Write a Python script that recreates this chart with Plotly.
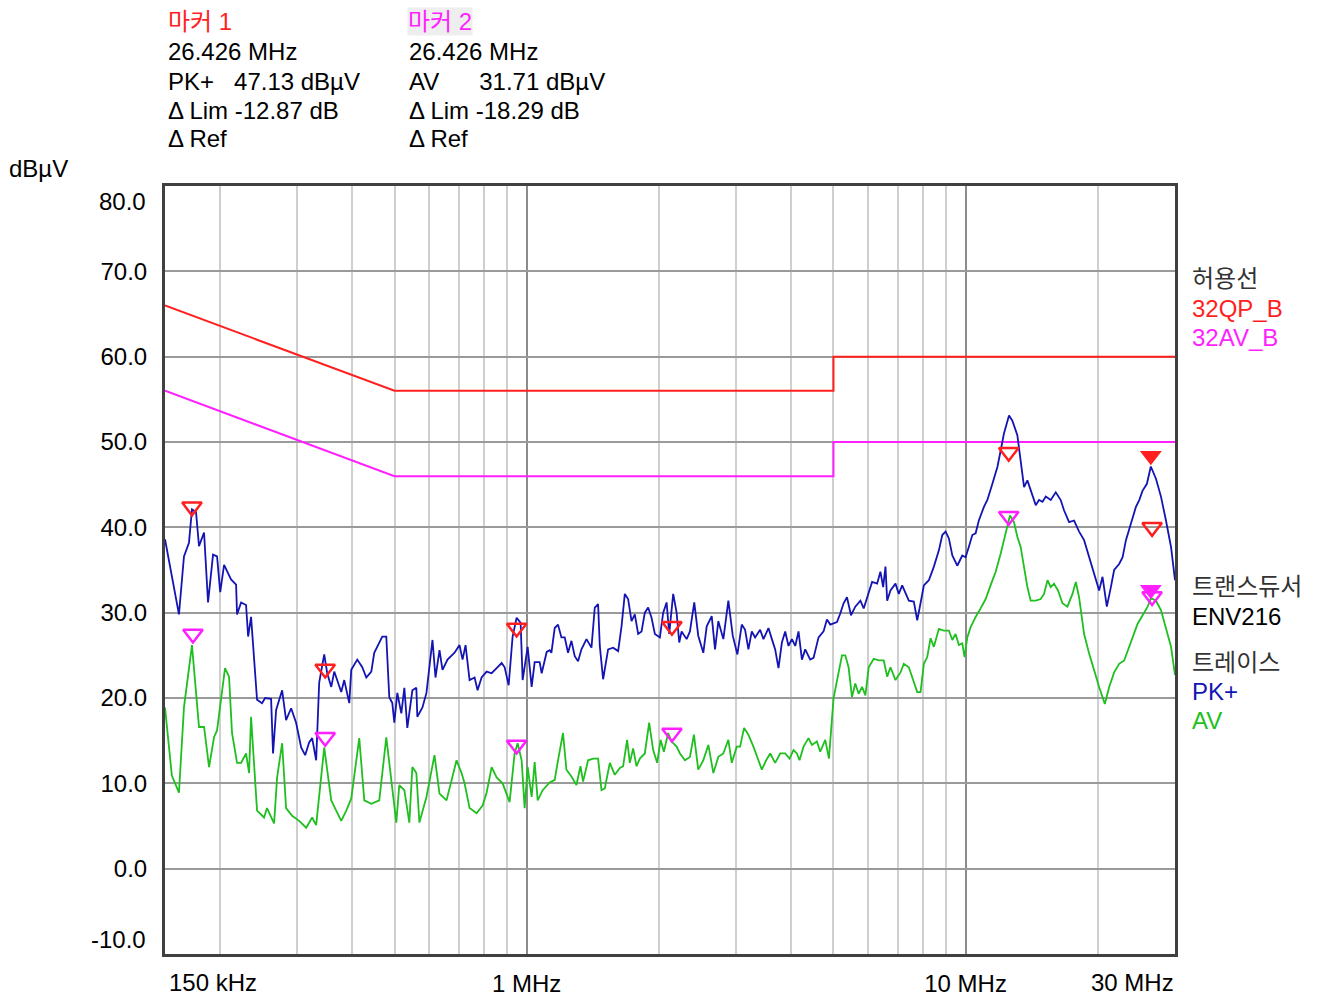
import plotly.graph_objects as go

# --- limit lines (MHz, dBuV)
qp_lim_f = [0.15, 0.5, 5.0, 5.0, 30.0]
qp_lim_v = [66.0, 56.0, 56.0, 60.0, 60.0]
av_lim_f = [0.15, 0.5, 5.0, 5.0, 30.0]
av_lim_v = [56.0, 46.0, 46.0, 50.0, 50.0]

# --- PK+ trace
pk_f = [
    0.150, 0.1614, 0.1657, 0.1701, 0.1728, 0.1765, 0.1793, 0.1841, 0.1880, 0.1930,
    0.1971, 0.2004, 0.2045, 0.2121, 0.2178, 0.2189, 0.2236, 0.2295, 0.2320, 0.2356,
    0.2431, 0.2496, 0.2536, 0.2617, 0.2644, 0.2687, 0.2773, 0.2831, 0.2907, 0.2984,
    0.3064, 0.3129, 0.3195, 0.3246, 0.3315, 0.3368, 0.3458, 0.3513, 0.3588, 0.3645,
    0.3781, 0.3841, 0.3944, 0.3985, 0.4113, 0.4222, 0.4312, 0.4427, 0.4496, 0.4616,
    0.4689, 0.4789, 0.4865, 0.4943, 0.4995, 0.5074, 0.5182, 0.5265, 0.5348, 0.5491,
    0.5607, 0.5636, 0.5789, 0.5912, 0.6102, 0.6199, 0.6331, 0.6431, 0.6603, 0.6851,
    0.7033, 0.7145, 0.7258, 0.7413, 0.7611, 0.7731, 0.7895, 0.8106, 0.8322, 0.8544,
    0.8771, 0.8911, 0.9100, 0.9290, 0.9488, 0.9689, 0.9792, 1.0053, 1.0266, 1.0430,
    1.0707, 1.0820, 1.1110, 1.1285, 1.1386, 1.1586, 1.1789, 1.2001, 1.2211, 1.2425,
    1.2649, 1.2870, 1.3096, 1.3332, 1.3687, 1.4051, 1.4297, 1.4547, 1.4678, 1.4935,
    1.5333, 1.5741, 1.6161, 1.6451, 1.6736, 1.7028, 1.7337, 1.7638, 1.7948, 1.8272,
    1.8590, 1.8916, 1.9256, 1.9594, 2.0116, 2.0468, 2.0838, 2.1124, 2.1572, 2.1962,
    2.2266, 2.2546, 2.3146, 2.3552, 2.4090, 2.4602, 2.5263, 2.5719, 2.6403, 2.6865,
    2.7336, 2.8062, 2.8809, 2.9484, 3.0207, 3.0912, 3.1455, 3.2004, 3.2580, 3.3150,
    3.4035, 3.4636, 3.5556, 3.6200, 3.6832, 3.7476, 3.8152, 3.8820, 3.9500, 4.0210,
    4.0920, 4.1630, 4.2380, 4.3120, 4.4260, 4.5040, 4.6240, 4.7470, 4.8320, 4.9170,
    5.093, 5.182, 5.273, 5.368, 5.482, 5.607, 5.759, 5.860, 6.016, 6.124,
    6.287, 6.397, 6.489, 6.569, 6.628, 6.744, 6.923, 7.044, 7.171, 7.297,
    7.425, 7.622, 7.760, 7.895, 8.034, 8.248, 8.468, 8.693, 8.850, 9.005,
    9.162, 9.328, 9.573, 9.828, 10.00, 10.17, 10.36, 10.54, 10.72, 11.01,
    11.21, 11.51, 11.82, 12.02, 12.23, 12.56, 12.78, 13.12, 13.35, 13.59,
    13.83, 14.07, 14.45, 14.70, 14.97, 15.23, 15.63, 16.05, 16.47, 16.76,
    17.21, 17.67, 18.14, 18.62, 19.12, 19.46, 19.80, 20.15, 20.51, 20.98,
    21.43, 21.80, 22.38, 22.79, 23.19, 23.81, 24.44, 24.87, 25.31, 25.89,
    26.426, 27.15, 27.87, 28.61, 29.38, 30.00,
]
pk_v = [
    38.6, 29.8, 36.6, 38.2, 42.1, 41.8, 37.8, 39.4, 31.2, 36.8,
    36.6, 32.4, 35.6, 33.9, 33.3, 29.8, 31.2, 30.9, 27.2, 29.5,
    19.8, 19.4, 20.0, 19.9, 13.5, 18.6, 20.9, 17.4, 18.8, 17.1,
    14.2, 13.3, 14.8, 15.3, 12.7, 21.8, 25.1, 22.9, 21.3, 23.1,
    20.7, 22.1, 19.4, 23.3, 24.5, 23.6, 22.4, 23.1, 25.3, 26.5,
    27.2, 27.2, 20.1, 19.4, 17.1, 20.6, 18.2, 21.2, 16.5, 20.9,
    21.2, 17.8, 18.9, 20.6, 26.8, 22.4, 25.6, 23.3, 24.5, 25.3,
    26.2, 24.5, 26.2, 22.1, 22.4, 20.9, 22.4, 23.1, 22.9, 23.5,
    24.1, 23.6, 21.5, 27.2, 29.4, 28.8, 22.1, 26.0, 21.3, 24.2,
    24.2, 22.9, 25.4, 25.6, 25.3, 28.2, 28.6, 27.1, 27.1, 25.3,
    26.7, 24.9, 24.3, 25.7, 26.9, 25.9, 30.6, 31.0, 26.1, 22.2,
    25.7, 25.9, 25.5, 28.4, 32.2, 31.6, 29.0, 29.8, 27.5, 27.8,
    30.0, 30.6, 29.4, 27.5, 27.1, 30.0, 31.2, 27.5, 32.2, 30.0,
    26.5, 27.8, 26.9, 27.8, 31.2, 27.3, 25.3, 28.4, 29.6, 25.7,
    29.0, 26.9, 31.4, 27.3, 25.1, 28.6, 28.0, 25.7, 27.8, 27.1,
    28.0, 26.9, 28.2, 26.9, 25.7, 23.5, 26.5, 27.8, 26.1, 26.9,
    26.1, 27.8, 24.5, 25.7, 24.5, 24.7, 27.1, 27.8, 29.2, 28.6,
    28.9, 29.9, 31.1, 31.8, 29.7, 30.7, 31.4, 30.5, 32.2, 33.6,
    33.4, 34.8, 33.0, 35.4, 31.4, 32.6, 33.4, 32.2, 33.2, 32.4,
    31.4, 31.3, 29.1, 31.1, 33.2, 33.8, 35.4, 37.3, 39.1, 39.5,
    38.7, 36.7, 35.5, 36.7, 36.5, 37.7, 39.1, 39.3, 40.8, 42.4,
    43.2, 45.1, 47.1, 49.0, 51.0, 53.1, 52.5, 50.8, 48.0, 44.7,
    45.5, 44.3, 42.6, 43.2, 43.0, 43.6, 43.2, 44.1, 43.2, 42.0,
    40.6, 40.8, 39.5, 38.5, 36.5, 35.0, 33.8, 32.6, 34.2, 30.7,
    33.0, 35.0, 35.7, 36.5, 38.5, 40.4, 42.4, 43.2, 44.3, 45.1,
    47.13, 45.7, 43.6, 40.8, 37.7, 33.8,
]

# --- AV trace
av_f = [
    0.150, 0.1555, 0.1614, 0.1657, 0.1728, 0.1793, 0.1841, 0.1890, 0.1940, 0.1971,
    0.2055, 0.2099, 0.2132, 0.2189, 0.2236, 0.2295, 0.2332, 0.2356, 0.2431, 0.2522,
    0.2562, 0.2658, 0.2701, 0.2773, 0.2831, 0.2922, 0.3032, 0.3146, 0.3246, 0.3315,
    0.3458, 0.3588, 0.3683, 0.3781, 0.3882, 0.3985, 0.4156, 0.4267, 0.4427, 0.4616,
    0.4789, 0.4943, 0.5047, 0.5127, 0.5265, 0.5404, 0.5491, 0.5607, 0.5697, 0.5912,
    0.6166, 0.6331, 0.6569, 0.6923, 0.7108, 0.7220, 0.7413, 0.7690, 0.7937, 0.8106,
    0.8322, 0.8544, 0.8817, 0.9145, 0.9389, 0.9538, 0.9741, 0.9895, 1.0053, 1.0266,
    1.0430, 1.0596, 1.0877, 1.1285, 1.1586, 1.1789, 1.2102, 1.2321, 1.2649, 1.2986,
    1.3262, 1.3445, 1.3803, 1.4170, 1.4547, 1.4809, 1.5068, 1.5470, 1.5882, 1.6305,
    1.6588, 1.6940, 1.7182, 1.7482, 1.7798, 1.8108, 1.8590, 1.9016, 1.9420, 1.9832,
    2.019, 2.054, 2.101, 2.139, 2.196, 2.235, 2.294, 2.355, 2.405, 2.460,
    2.526, 2.594, 2.663, 2.734, 2.806, 2.881, 2.933, 3.011, 3.064, 3.129,
    3.200, 3.286, 3.345, 3.434, 3.513, 3.588, 3.683, 3.781, 3.882, 3.971,
    4.055, 4.128, 4.185, 4.274, 4.387, 4.466, 4.585, 4.665, 4.789, 4.883,
    5.003, 5.229, 5.320, 5.413, 5.511, 5.607, 5.708, 5.810, 5.912, 6.016,
    6.176, 6.340, 6.509, 6.628, 6.744, 6.923, 7.108, 7.232, 7.425, 7.558,
    7.760, 7.895, 8.034, 8.178, 8.322, 8.468, 8.693, 8.924, 9.162, 9.328,
    9.488, 9.654, 9.828, 9.948, 10.09, 10.27, 10.54, 10.82, 11.11, 11.40,
    11.71, 12.02, 12.34, 12.62, 12.89, 13.12, 13.35, 13.59, 13.83, 14.07,
    14.45, 14.83, 15.09, 15.37, 15.63, 15.90, 16.24, 16.62, 17.06, 17.52,
    17.83, 18.14, 18.62, 19.12, 19.63, 20.15, 20.76, 21.24, 21.80, 22.38,
    22.98, 23.39, 24.02, 24.66, 25.31, 25.99, 26.426, 27.15, 27.87, 28.61,
    29.38, 30.00,
]
av_v = [
    18.9, 10.9, 8.9, 18.9, 26.2, 16.6, 16.6, 11.9, 15.4, 16.2,
    23.5, 22.5, 15.9, 12.4, 12.4, 13.5, 11.2, 17.8, 6.8, 6.0,
    7.1, 5.3, 10.7, 14.7, 7.1, 6.2, 5.6, 4.8, 6.0, 5.1,
    14.2, 8.0, 6.8, 5.6, 6.8, 8.2, 15.3, 8.0, 7.6, 8.0,
    15.4, 9.5, 5.4, 9.8, 9.2, 5.4, 11.9, 11.2, 5.4, 8.4,
    13.3, 8.8, 8.0, 12.7, 11.2, 10.0, 7.1, 6.5, 7.4, 8.9,
    11.9, 10.7, 10.0, 7.8, 13.5, 14.7, 12.7, 7.1, 11.9, 8.4,
    12.5, 8.0, 9.2, 10.1, 10.4, 12.7, 15.9, 11.6, 10.8, 9.8,
    12.0, 10.2, 12.7, 12.9, 12.9, 9.2, 9.4, 12.4, 11.0, 11.8,
    12.0, 15.1, 12.4, 14.1, 12.0, 12.9, 13.5, 17.1, 13.9, 12.4,
    15.1, 13.7, 15.9, 14.9, 14.3, 13.5, 12.7, 13.1, 15.7, 11.6,
    12.7, 14.5, 11.2, 13.1, 13.5, 15.1, 12.4, 14.3, 14.3, 16.5,
    15.7, 14.3, 13.3, 11.6, 12.7, 13.5, 12.4, 13.5, 13.5, 12.9,
    13.9, 13.5, 12.7, 14.3, 15.3, 14.5, 14.9, 13.7, 15.1, 12.9,
    20.0, 25.0, 25.0, 23.6, 20.1, 21.7, 20.5, 21.3, 20.3, 23.6,
    24.6, 24.4, 24.4, 22.5, 23.6, 22.1, 23.0, 24.0, 23.6, 22.5,
    20.7, 20.7, 24.0, 24.8, 27.0, 26.0, 28.1, 27.9, 27.9, 26.8,
    27.5, 26.2, 26.4, 24.8, 27.1, 28.3, 29.5, 30.5, 31.6, 33.2,
    34.8, 36.9, 39.3, 41.4, 40.6, 38.9, 37.7, 35.4, 33.0, 31.4,
    31.4, 31.6, 32.2, 33.8, 33.0, 33.4, 32.6, 31.1, 30.7, 32.2,
    33.6, 31.8, 27.5, 25.2, 23.2, 21.3, 19.3, 21.3, 23.0, 24.0,
    24.4, 25.4, 27.1, 28.7, 29.7, 30.7, 31.71, 31.4, 30.3, 28.3,
    26.0, 22.7,
]

# --- markers
pk_mark_f = [0.1728, 0.3476, 0.9488, 2.143, 12.54, 26.60]
pk_mark_v = [42.4, 23.4, 28.2, 28.4, 48.8, 40.0]
av_mark_f = [0.1737, 0.3476, 0.9488, 2.143, 12.54, 26.60]
av_mark_v = [27.5, 15.4, 14.5, 15.9, 41.3, 31.9]
m1_f, m1_v = [26.426], [48.4]
m2_f, m2_v = [26.426], [32.7]

x_major = [1, 10]
x_minor = [0.2, 0.3, 0.4, 0.5, 0.6, 0.7, 0.8, 0.9, 2, 3, 4, 5, 6, 7, 8, 9, 20]
y_ticks = [0, 10, 20, 30, 40, 50, 60, 70]

RED = "#ff1f1f"
MAG = "#ff1fff"
BLUE = "#1414b4"
GREEN = "#1fbf1f"
FONT = "Liberation Sans, Arial, Noto Sans CJK KR, sans-serif"
FS = 24

fig = go.Figure()
fig.add_trace(go.Scatter(x=qp_lim_f, y=qp_lim_v, mode="lines", line=dict(color=RED, width=2)))
fig.add_trace(go.Scatter(x=av_lim_f, y=av_lim_v, mode="lines", line=dict(color=MAG, width=2)))
fig.add_trace(go.Scatter(x=av_f, y=av_v, mode="lines", line=dict(color=GREEN, width=1.8)))
fig.add_trace(go.Scatter(x=pk_f, y=pk_v, mode="lines", line=dict(color=BLUE, width=1.8)))
fig.add_trace(go.Scatter(x=pk_mark_f, y=pk_mark_v, mode="markers",
                         marker=dict(symbol="triangle-down-open", size=17, color=RED, line=dict(width=2.5))))
fig.add_trace(go.Scatter(x=av_mark_f, y=av_mark_v, mode="markers",
                         marker=dict(symbol="triangle-down-open", size=17, color=MAG, line=dict(width=2.5))))
fig.add_trace(go.Scatter(x=m1_f, y=m1_v, mode="markers",
                         marker=dict(symbol="triangle-down", size=19, color=RED)))
fig.add_trace(go.Scatter(x=m2_f, y=m2_v, mode="markers",
                         marker=dict(symbol="triangle-down", size=19, color=MAG)))

fig.update_xaxes(
    type="log", range=[-0.8239, 1.4771], automargin=False,
    tickvals=x_major, ticktext=["1 MHz", "10 MHz"],
    showgrid=True, gridcolor="#8c8c8c", gridwidth=2,
    minor=dict(tickvals=x_minor, showgrid=True, gridcolor="#cfcfcf", gridwidth=2, ticklen=0),
    ticks="", ticklen=0, ticklabelstandoff=6,
    showline=True, linecolor="#404040", linewidth=3, mirror=True,
    tickfont=dict(size=FS, color="black"),
    zeroline=False,
)
fig.update_yaxes(
    range=[-10, 80], tickvals=y_ticks, ticktext=[f"{v:.1f}" for v in y_ticks], automargin=False,
    showgrid=True, gridcolor="#9a9a9a", gridwidth=2, ticklabelstandoff=10,
    ticks="", showline=True, linecolor="#404040", linewidth=3, mirror=True,
    tickfont=dict(size=FS, color="black"), zeroline=False,
)

ann = []


def txt(x, y, s, color="black", xanchor="left", xref="paper", yref="paper", **kw):
    ann.append(dict(x=x, y=y, xref=xref, yref=yref, text=s, showarrow=False,
                    xanchor=xanchor, yanchor="middle", font=dict(size=FS, color=color, family=FONT), **kw))


# pixel helpers for paper coords (plot area 165..1175 x, 186..954 y)
def px(x):
    return (x - 165) / 1010


def py(y):
    return (954 - y) / 768


txt(px(166), py(22), "마커 1", RED)
txt(px(166), py(52), "26.426 MHz")
txt(px(166), py(81), "PK+   47.13 dBµV")
txt(px(166), py(110), "Δ Lim -12.87 dB")
txt(px(166), py(139), "Δ Ref")
txt(px(407), py(22), "마커 2", MAG, bgcolor="#eeeeee", borderpad=0)
txt(px(407), py(52), "26.426 MHz")
txt(px(407), py(81), "AV      31.71 dBµV")
txt(px(407), py(110), "Δ Lim -18.29 dB")
txt(px(407), py(139), "Δ Ref")
txt(px(7), py(168), "dBµV")

txt(px(148), 78.2, "80.0", xanchor="right", yref="y")
txt(px(148), -8.35, "-10.0", xanchor="right", yref="y")
txt(px(167), py(982), "150 kHz")
txt(px(1176), py(982), "30 MHz", xanchor="right")

txt(px(1190), py(278), "허용선", "#333333")
txt(px(1190), py(308), "32QP_B", RED)
txt(px(1190), py(337), "32AV_B", MAG)
txt(px(1190), py(586), "트랜스듀서", "#333333")
txt(px(1190), py(616), "ENV216", "black")
txt(px(1190), py(662), "트레이스", "#333333")
txt(px(1190), py(691), "PK+", BLUE)
txt(px(1190), py(720), "AV", GREEN)

fig.update_layout(
    width=1320, height=996,
    margin=dict(l=165, r=145, t=186, b=42),
    plot_bgcolor="white", paper_bgcolor="white",
    showlegend=False,
    font=dict(family=FONT, size=FS, color="black"),
    annotations=ann,
)

fig.write_html("out.html", config={"displayModeBar": False},
               post_script="document.body.style.margin='0';")
